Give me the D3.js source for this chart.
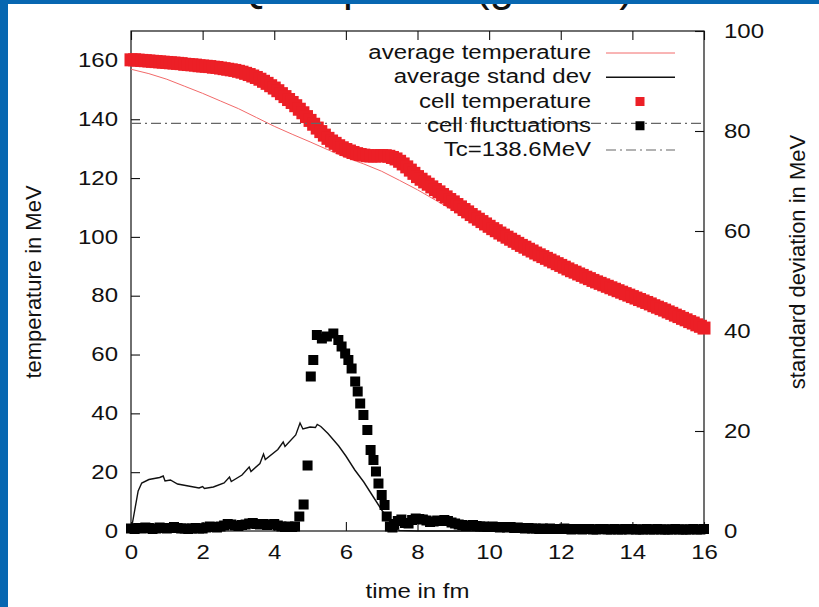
<!DOCTYPE html>
<html>
<head>
<meta charset="utf-8">
<script src="https://cdnjs.cloudflare.com/ajax/libs/d3/7.8.5/d3.min.js"></script>
<style>
body { margin: 0; background: #fff; }
svg { display: block; }
text { font-family: "Liberation Sans", Arial, Helvetica, sans-serif; fill: #111; }
.axis text { font-size: 19.5px; fill: #111; }
.axis line { stroke: #111; stroke-width: 1.1; }
</style>
</head>
<body>
<script>

// tick values
var timeTicks = [0, 2, 4, 6, 8, 10, 12, 14, 16]
var tempTicks = [0, 20, 40, 60, 80, 100, 120, 140, 160]
var devTicks = [0, 20, 40, 60, 80, 100]
var Tc = 138.6

var legendLabels = ["average temperature", "average stand dev", "cell temperature", "cell fluctuations", "Tc=138.6MeV"]

// average temperature (MeV, left axis) vs time (fm)
var avgTemp = [[0,157.0],[0.5,155.5],[1.0,153.6],[1.5,151.2],[2.0,148.8],[2.5,146.2],[3.0,143.6],[3.5,140.6],
  [4.0,137.6],[4.5,134.9],[5.0,132.3],[5.5,129.6],[6.0,127.0],[6.5,124.8],[7.0,122.3],[7.5,119.2],[8.0,116.0],
  [8.5,112.5],[9.0,109.0],[9.5,105.5],[10.0,102.0],[10.5,98.6],[11.0,95.6],[11.5,92.9],[12.0,89.9],[12.5,87.3],
  [13.0,84.5],[13.5,82.0],[14.0,79.4],[14.5,76.9],[15.0,74.4],[15.5,71.9],[16.0,69.0]]

// average standard deviation (MeV, right axis)
var avgDev = [[0,0],[0.1,4],[0.2,8],[0.3,9.6],[0.5,10.3],[0.8,10.7],[0.9,11.0],[0.95,10.0],[1.1,10.2],[1.3,9.4],
  [1.6,9.0],[1.9,8.6],[2.0,8.9],[2.05,8.5],[2.3,8.8],[2.6,9.6],[2.75,10.8],[2.8,9.9],[3.1,11.2],[3.3,12.8],
  [3.35,11.9],[3.6,13.5],[3.7,15.4],[3.75,14.3],[4.1,16.3],[4.25,17.8],[4.3,16.9],[4.6,19.2],[4.72,21.6],
  [4.8,20.4],[5.0,20.8],[5.15,20.7],[5.2,21.3],[5.3,20.9],[5.5,19.5],[5.8,17.0],[6.0,15.0],[6.25,12.2],
  [6.5,9.8],[6.75,7.0],[7.0,4.2],[7.2,2.2],[7.35,0.6],[7.5,0.1],[8.0,0],[16,0]]

// cell temperature (MeV, left axis)
var cellTemp = [[0.0,160.2],[0.1,160.2],[0.2,160.1],[0.3,160.0],[0.4,159.9],[0.5,159.8],[0.6,159.7],[0.7,159.6],
  [0.8,159.5],[0.9,159.4],[1.0,159.3],[1.1,159.2],[1.2,159.1],[1.3,159.0],[1.4,158.9],[1.5,158.7],[1.6,158.6],
  [1.7,158.5],[1.8,158.4],[1.9,158.2],[2.0,158.1],[2.1,158.0],[2.2,157.9],[2.3,157.7],[2.4,157.6],[2.5,157.4],
  [2.6,157.2],[2.7,157.0],[2.8,156.8],[2.9,156.6],[3.0,156.3],[3.1,156.0],[3.2,155.6],[3.3,155.2],[3.4,154.7],
  [3.5,154.2],[3.6,153.6],[3.7,152.9],[3.8,152.2],[3.9,151.4],[4.0,150.6],[4.1,149.7],[4.2,148.7],[4.3,147.7],
  [4.4,146.7],[4.5,145.7],[4.6,144.6],[4.7,143.4],[4.8,142.2],[4.9,140.9],[5.0,139.6],[5.1,138.3],[5.2,137.0],
  [5.3,135.8],[5.4,134.6],[5.5,133.5],[5.6,132.6],[5.7,131.8],[5.8,131.0],[5.9,130.3],[6.0,129.7],[6.1,129.2],
  [6.2,128.7],[6.3,128.3],[6.4,128.0],[6.5,127.8],[6.6,127.6],[6.7,127.5],[6.8,127.5],[6.9,127.6],[7.0,127.6],
  [7.1,127.6],[7.2,127.4],[7.3,127.0],[7.4,126.5],[7.5,125.7],[7.6,124.8],[7.7,123.8],[7.8,122.7],[7.9,121.6],
  [8.0,120.5],[8.1,119.6],[8.2,118.7],[8.3,117.9],[8.4,117.0],[8.5,116.1],[8.6,115.3],[8.7,114.4],[8.8,113.6],
  [8.9,112.7],[9.0,111.9],[9.1,111.0],[9.2,110.2],[9.3,109.3],[9.4,108.5],[9.5,107.6],[9.6,106.8],[9.7,106.0],
  [9.8,105.2],[9.9,104.4],[10.0,103.6],[10.1,102.8],[10.2,102.1],[10.3,101.3],[10.4,100.6],[10.5,99.9],
  [10.6,99.2],[10.7,98.5],[10.8,97.8],[10.9,97.1],[11.0,96.5],[11.1,95.8],[11.2,95.2],[11.3,94.5],[11.4,93.9],
  [11.5,93.3],[11.6,92.7],[11.7,92.1],[11.8,91.5],[11.9,90.9],[12.0,90.3],[12.1,89.7],[12.2,89.1],[12.3,88.5],
  [12.4,88.0],[12.5,87.4],[12.6,86.9],[12.7,86.3],[12.8,85.8],[12.9,85.2],[13.0,84.7],[13.1,84.2],[13.2,83.7],
  [13.3,83.2],[13.4,82.7],[13.5,82.2],[13.6,81.7],[13.7,81.2],[13.8,80.7],[13.9,80.2],[14.0,79.7],[14.1,79.2],
  [14.2,78.7],[14.3,78.2],[14.4,77.7],[14.5,77.2],[14.6,76.6],[14.7,76.1],[14.8,75.6],[14.9,75.1],[15.0,74.5],
  [15.1,74.0],[15.2,73.4],[15.3,72.9],[15.4,72.3],[15.5,71.8],[15.6,71.2],[15.7,70.7],[15.8,70.1],[15.9,69.6],
  [16.0,69.0]]

// cell fluctuations (MeV, right axis)
var cellFluct = [[0.0,0.5],[0.1,0.4],[0.2,0.6],[0.3,0.5],[0.4,0.7],[0.5,0.6],[0.6,0.4],[0.7,0.5],[0.8,0.7],
  [0.9,0.6],[1.0,0.5],[1.1,0.6],[1.2,0.8],[1.3,0.6],[1.4,0.5],[1.5,0.5],[1.6,0.4],[1.7,0.5],[1.8,0.6],[1.9,0.5],
  [2.0,0.5],[2.1,0.7],[2.2,0.9],[2.3,0.8],[2.4,0.7],[2.5,0.9],[2.6,1.1],[2.7,1.4],[2.8,1.3],[2.9,1.1],[3.0,1.0],
  [3.1,1.2],[3.2,1.3],[3.3,1.5],[3.4,1.6],[3.5,1.4],[3.6,1.3],[3.7,1.4],[3.8,1.2],[3.9,1.3],[4.0,1.4],[4.1,1.1],
  [4.2,0.9],[4.3,0.8],[4.4,0.9],[4.5,0.8],[4.58,0.9],[4.7,2.9],[4.82,5.3],[4.93,13.1],[5.02,30.9],[5.09,34.2],
  [5.19,39.2],[5.33,38.5],[5.47,38.9],[5.65,39.5],[5.79,38.2],[5.88,36.9],[5.98,35.5],[6.07,34.2],[6.16,32.5],
  [6.26,29.9],[6.33,27.9],[6.4,25.5],[6.49,23.2],[6.6,20.2],[6.69,16.2],[6.77,14.2],[6.84,11.9],[6.91,9.5],
  [7.0,7.2],[7.08,5.2],[7.14,2.9],[7.23,0.9],[7.3,0.7],[7.35,1.4],[7.45,2.0],[7.55,2.3],[7.65,1.6],[7.75,1.5],
  [7.85,2.2],[7.95,2.5],[8.05,2.4],[8.15,2.3],[8.25,2.1],[8.35,1.8],[8.45,1.9],[8.55,2.1],[8.65,2.0],[8.75,2.2],
  [8.85,2.0],[8.95,1.7],[9.05,1.5],[9.15,1.3],[9.25,1.2],[9.35,1.0],[9.45,1.1],[9.55,1.2],[9.65,1.0],[9.75,0.9],
  [9.85,0.9],[9.95,0.8],[10.0,0.8],[10.1,0.9],[10.2,0.8],[10.3,0.7],[10.4,0.8],[10.5,0.7],[10.6,0.8],[10.7,0.6],
  [10.8,0.7],[10.9,0.6],[11.0,0.5],[11.1,0.6],[11.2,0.5],[11.3,0.5],[11.4,0.4],[11.5,0.5],[11.6,0.4],[11.7,0.5],
  [11.8,0.4],[11.9,0.4],[12.0,0.4],[12.1,0.5],[12.2,0.4],[12.3,0.3],[12.4,0.4],[12.5,0.4],[12.6,0.3],[12.7,0.4],
  [12.8,0.4],[12.9,0.3],[13.0,0.3],[13.1,0.4],[13.2,0.4],[13.3,0.3],[13.4,0.3],[13.5,0.4],[13.6,0.3],[13.7,0.3],
  [13.8,0.4],[13.9,0.3],[14.0,0.4],[14.1,0.3],[14.2,0.3],[14.3,0.3],[14.4,0.4],[14.5,0.3],[14.6,0.3],[14.7,0.4],
  [14.8,0.3],[14.9,0.3],[15.0,0.3],[15.1,0.3],[15.2,0.4],[15.3,0.3],[15.4,0.3],[15.5,0.3],[15.6,0.3],[15.7,0.4],
  [15.8,0.3],[15.9,0.3],[16.0,0.4]]

var W = 819, H = 607
var plotL = 131, plotR = 704, plotT = 31, plotB = 531
var red = "#ec1f26", thinRed = "#f26a6a"

var x = d3.scaleLinear().domain([0, 16]).range([plotL, plotR])
var yT = d3.scaleLinear().domain([0, 170]).range([plotB, plotT])
var yS = d3.scaleLinear().domain([0, 100]).range([plotB, plotT])

var svg = d3.select("body").append("svg")
  .attr("width", W)
  .attr("height", H)

svg.append("rect").attr("width", W).attr("height", H).attr("fill", "#fff")

// slide title: only the descenders peek out under the blue frame
svg.append("text")
  .attr("x", 634).attr("y", 0.5)
  .attr("text-anchor", "end")
  .style("font-size", "44px")
  .text("QGP phase (gluons)")

// axes, ticks pointing inward
svg.append("g").attr("class", "axis")
  .attr("transform", "translate(0," + plotB + ")")
  .call(d3.axisBottom(x).tickValues(timeTicks).tickSize(-9).tickPadding(14))
  .call(g => g.select(".domain").remove())

svg.append("g").attr("class", "axis")
  .attr("transform", "translate(0," + plotT + ")")
  .call(d3.axisTop(x).tickValues(timeTicks).tickSize(-9).tickFormat(""))
  .call(g => g.select(".domain").remove())

svg.append("g").attr("class", "axis")
  .attr("transform", "translate(" + plotL + ",0)")
  .call(d3.axisLeft(yT).tickValues(tempTicks).tickSize(-9).tickPadding(13))
  .call(g => g.select(".domain").remove())

svg.append("g").attr("class", "axis")
  .attr("transform", "translate(" + plotR + ",0)")
  .call(d3.axisRight(yS).tickValues(devTicks).tickSize(-9).tickPadding(20))
  .call(g => g.select(".domain").remove())

svg.append("rect")
  .attr("x", plotL).attr("y", plotT)
  .attr("width", plotR - plotL).attr("height", plotB - plotT)
  .attr("fill", "none").attr("stroke", "#111").attr("stroke-width", 1.2)

// axis titles
svg.append("text").attr("class", "wide")
  .attr("x", x(8)).attr("y", 598)
  .attr("text-anchor", "middle")
  .style("font-size", "19.5px")
  .text("time in fm")

svg.append("text")
  .attr("transform", "translate(41,282) rotate(-90)")
  .attr("text-anchor", "middle")
  .style("font-size", "22px")
  .text("temperature in MeV")

svg.append("text")
  .attr("transform", "translate(805,262) rotate(-90)")
  .attr("text-anchor", "middle")
  .style("font-size", "22px")
  .text("standard deviation in MeV")

// series
var tempLine = d3.line().x(d => x(d[0])).y(d => yT(d[1]))
var devLine = d3.line().x(d => x(d[0])).y(d => yS(d[1]))

svg.append("path").datum(avgTemp)
  .attr("d", tempLine)
  .attr("fill", "none").attr("stroke", thinRed).attr("stroke-width", 1)

svg.append("path").datum(avgDev)
  .attr("d", devLine)
  .attr("fill", "none").attr("stroke", "#111").attr("stroke-width", 1.4)

var rs = 13
svg.append("g").selectAll("rect").data(cellTemp).join("rect")
  .attr("x", d => x(d[0]) - rs / 2).attr("y", d => yT(d[1]) - rs / 2)
  .attr("width", rs).attr("height", rs)
  .attr("fill", red)

var bs = 10
svg.append("g").selectAll("rect").data(cellFluct).join("rect")
  .attr("x", d => x(d[0]) - bs / 2).attr("y", d => yS(d[1]) - bs / 2)
  .attr("width", bs).attr("height", bs)
  .attr("fill", "#000")

svg.append("line")
  .attr("x1", plotL).attr("x2", plotR)
  .attr("y1", yT(Tc)).attr("y2", yT(Tc))
  .attr("stroke", "#666").attr("stroke-width", 1.2)
  .attr("stroke-dasharray", "10,4,2,4")

// legend
var legend = svg.append("g")
legendLabels.forEach(function (label, i) {
  var cy = 53 + i * 24.25
  legend.append("text").attr("class", "wide")
    .attr("x", 591).attr("y", cy + 6)
    .attr("text-anchor", "end")
    .style("font-size", "19.5px")
    .text(label)
  if (i == 0 || i == 1 || i == 4) {
    var ln = legend.append("line")
      .attr("x1", 606).attr("x2", 675)
      .attr("y1", cy).attr("y2", cy)
    if (i == 0) ln.attr("stroke", thinRed).attr("stroke-width", 1)
    if (i == 1) ln.attr("stroke", "#111").attr("stroke-width", 1.4)
    if (i == 4) ln.attr("stroke", "#666").attr("stroke-width", 1.2).attr("stroke-dasharray", "10,4,2,4")
  } else {
    var s = 9
    legend.append("rect")
      .attr("x", 640 - s / 2).attr("y", cy - s / 2)
      .attr("width", s).attr("height", s)
      .attr("fill", i == 2 ? red : "#000")
  }
})

// the source picture is stretched sideways, so widen horizontal text
function widen(sel, k) {
  sel.each(function () {
    var len = this.getComputedTextLength()
    this.setAttribute("textLength", len * k)
    this.setAttribute("lengthAdjust", "spacingAndGlyphs")
  })
}
widen(svg.selectAll(".axis text"), 1.23)
widen(svg.selectAll("text.wide"), 1.23)

// blue slide frame
svg.append("rect").attr("x", 0).attr("y", 0).attr("width", W).attr("height", 4).attr("fill", "#0767b1")
svg.append("rect").attr("x", 0).attr("y", 0).attr("width", 8).attr("height", H).attr("fill", "#0767b1")

</script>
</body>
</html>
